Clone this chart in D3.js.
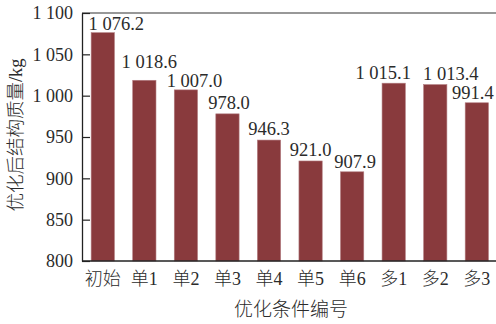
<!DOCTYPE html>
<html>
<head>
<meta charset="utf-8">
<script src="https://cdn.jsdelivr.net/npm/d3@7"></script>
<style>
  html, body { margin: 0; padding: 0; background: #fff; }
  svg { display: block; }
</style>
</head>
<body>
<svg id="chart" width="496" height="324"></svg>
<script>
// Optimised structural mass for each optimisation case
const categories = ["初始", "单1", "单2", "单3", "单4", "单5", "单6", "多1", "多2", "多3"];
const massValues = [1076.2, 1018.6, 1007.0, 978.0, 946.3, 921.0, 907.9, 1015.1, 1013.4, 991.4];
const yTicks = [800, 850, 900, 950, 1000, 1050, 1100];

const xTitle = "优化条件编号";
const yTitle = "优化后结构质量/kg";

// value labels are shifted a little so neighbours do not collide
const labelShiftX = [13.5, 5, 8.5, 1.5, 0, 0, 3, -10.5, 15.5, -4];
const labelShiftY = [-3, -12, -3, -5, -5, -5, -4, -4, -5, -4];

const W = 496, H = 324;
const margin = { left: 82, top: 13, bottom: 63 };
const plotRight = 497.6;

const svg = d3.select("#chart");
const serif = "'Liberation Serif', 'Times New Roman', 'Noto Sans CJK SC', serif";
const textColor = "#2b2b2b";

// thousands separated by a space, e.g. 1 076.2
const fmtGroup = s => {
  const [intPart, dec] = s.split(".");
  const grouped = intPart.replace(/\B(?=(\d{3})+(?!\d))/g, " ");
  return dec !== undefined ? grouped + "." + dec : grouped;
};

const x = d3.scaleBand()
  .domain(categories)
  .range([margin.left, plotRight])
  .paddingInner(0.44)
  .paddingOuter(0.22);

const y = d3.scaleLinear()
  .domain([800, 1100])
  .range([H - margin.bottom, margin.top]);

// bars
svg.append("g")
  .selectAll("rect")
  .data(massValues)
  .join("rect")
  .attr("x", (d, i) => x(categories[i]))
  .attr("y", d => y(d))
  .attr("width", x.bandwidth())
  .attr("height", d => y(800) - y(d))
  .attr("fill", "#893a3d")
  .attr("stroke", "#b27c80")
  .attr("stroke-width", 0.6);

// value labels
svg.append("g")
  .selectAll("text")
  .data(massValues)
  .join("text")
  .attr("x", (d, i) => x(categories[i]) + x.bandwidth() / 2 + labelShiftX[i])
  .attr("y", (d, i) => y(d) + labelShiftY[i])
  .attr("text-anchor", "middle")
  .attr("font-family", serif)
  .attr("font-size", 18.5)
  .attr("fill", textColor)
  .text(d => fmtGroup(d.toFixed(1)));

// frame line along the top
svg.append("line")
  .attr("x1", margin.left).attr("x2", W)
  .attr("y1", y(1100)).attr("y2", y(1100))
  .attr("stroke", "#333").attr("stroke-width", 1.2);

// y axis, ticks pointing inward
const yAxis = svg.append("g")
  .attr("transform", `translate(${margin.left},0)`)
  .call(d3.axisLeft(y).tickValues(yTicks).tickSizeInner(-8).tickSizeOuter(0)
    .tickPadding(9).tickFormat(d => fmtGroup(String(d))));
yAxis.select(".domain").attr("stroke", "#222").attr("stroke-width", 1.3);
yAxis.selectAll(".tick line").attr("stroke", "#222").attr("stroke-width", 1.2);
yAxis.selectAll(".tick text")
  .attr("font-family", serif).attr("font-size", 18).attr("fill", textColor);

// x axis
const xAxis = svg.append("g")
  .attr("transform", `translate(0,${y(800)})`)
  .call(d3.axisBottom(x).tickSize(0).tickPadding(9));
xAxis.select(".domain").attr("stroke", "#222").attr("stroke-width", 1.3)
  .attr("d", `M${margin.left},0H${W}`);
xAxis.selectAll(".tick text")
  .attr("font-family", serif).attr("font-size", 18).attr("font-weight", 300)
  .attr("fill", textColor)
  .attr("dy", "0.85em");

// axis titles
svg.append("text")
  .attr("x", 291).attr("y", 316)
  .attr("text-anchor", "middle")
  .attr("font-family", serif).attr("font-size", 19).attr("font-weight", 300)
  .attr("fill", textColor)
  .text(xTitle);

svg.append("text")
  .attr("transform", `translate(22,135) rotate(-90)`)
  .attr("text-anchor", "middle")
  .attr("font-family", serif).attr("font-size", 18.5).attr("font-weight", 300)
  .attr("fill", textColor)
  .text(yTitle);
</script>
</body>
</html>
